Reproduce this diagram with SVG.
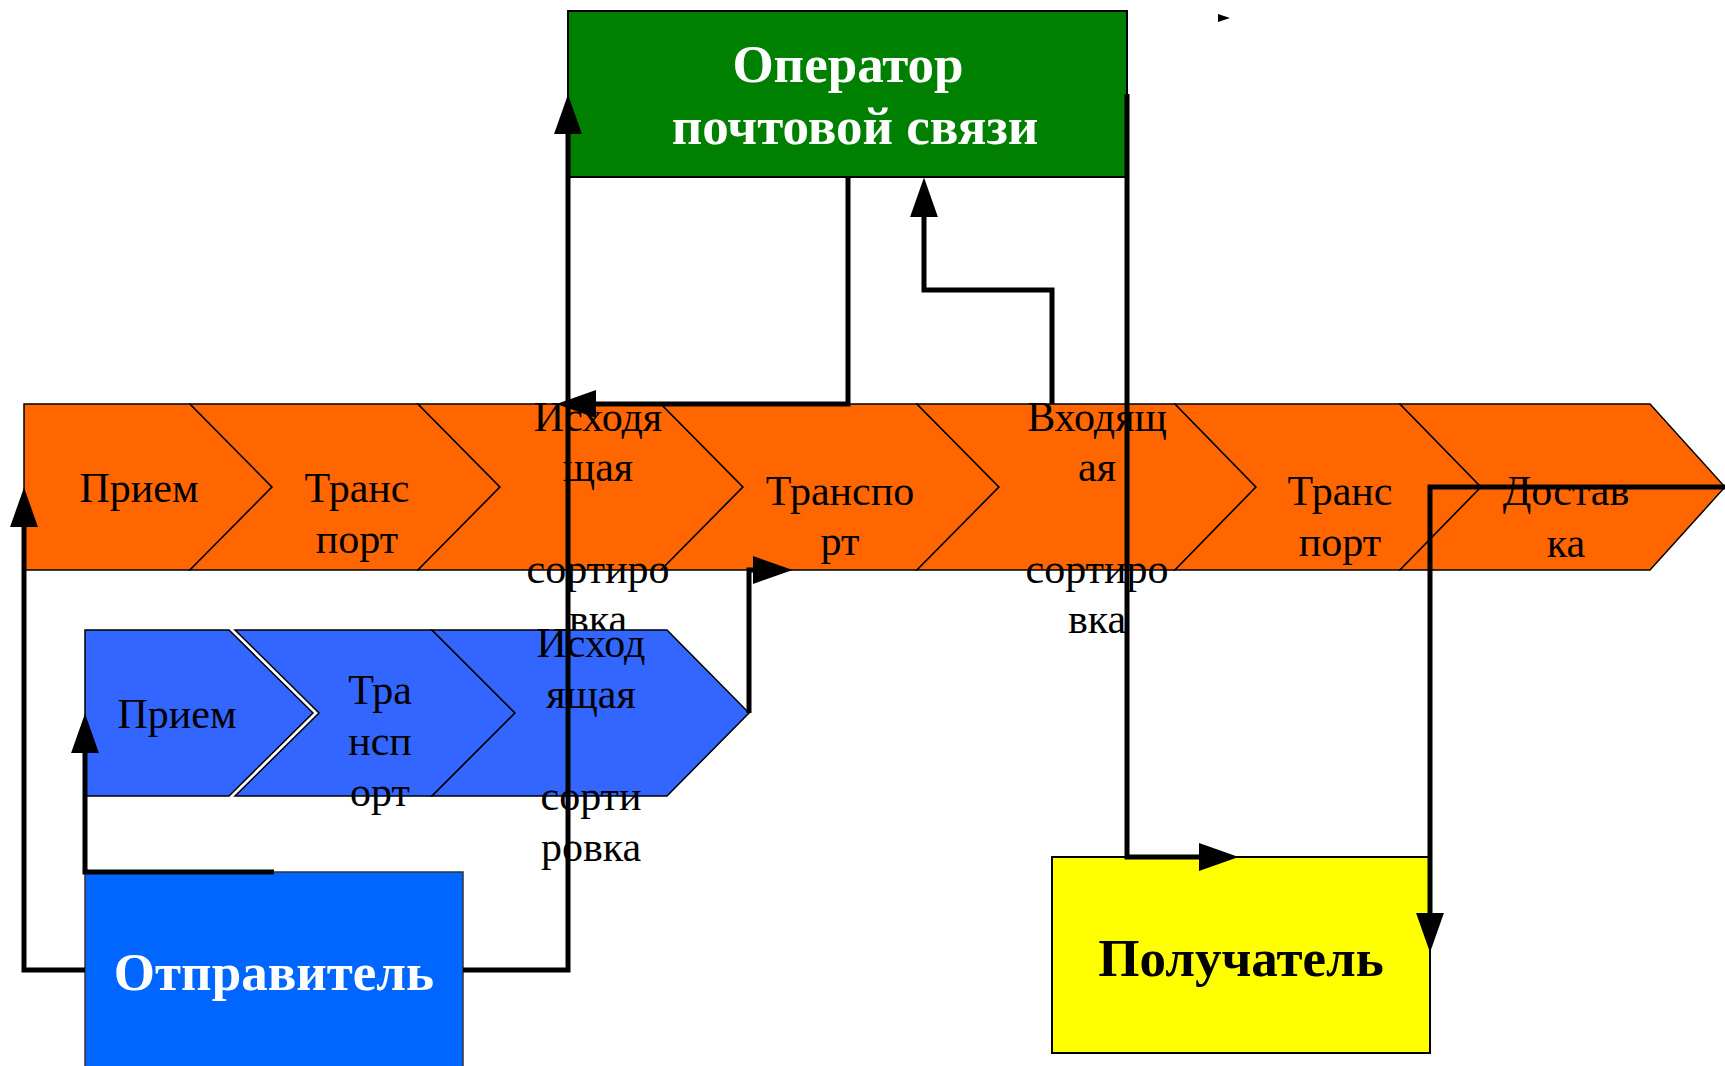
<svg xmlns="http://www.w3.org/2000/svg" width="1725" height="1066" viewBox="0 0 1725 1066">
<style>
.or{fill:#FF6600;stroke:#000;stroke-width:1.5;stroke-linejoin:miter}
.bl{fill:#3366FF;stroke:#000;stroke-width:1.5}
.t{font-family:"Liberation Serif","Times New Roman",serif;font-size:42px;fill:#000;text-anchor:middle}
.h{font-family:"Liberation Serif","Times New Roman",serif;font-size:53px;font-weight:bold;text-anchor:middle}
.c{fill:none;stroke:#000;stroke-width:5;stroke-linejoin:miter}
</style>
<defs>
<marker id="ah" markerUnits="userSpaceOnUse" markerWidth="40" markerHeight="28" viewBox="0 0 37 26" refX="29" refY="13" orient="auto">
<path d="M0,0 L37,13 L0,26 Z" fill="#000"/>
</marker>
</defs>
<rect width="1725" height="1066" fill="#fff"/>
<g id="orange-band">
<polygon class="or" points="24,404 190,404 272,487 190,570 24,570"/>
<polygon class="or" points="190,404 418,404 500,487 418,570 190,570 272,487"/>
<polygon class="or" points="418,404 661,404 743,487 661,570 418,570 500,487"/>
<polygon class="or" points="661,404 917,404 999,487 917,570 661,570 743,487"/>
<polygon class="or" points="917,404 1175,404 1256,487 1175,570 917,570 999,487"/>
<polygon class="or" points="1175,404 1400,404 1481,487 1400,570 1175,570 1256,487"/>
<polygon class="or" points="1400,404 1650,404 1725,487 1650,570 1400,570 1481,487"/>
<text class="t" x="139" y="502">Прием</text>
<text class="t" x="357" y="502">Транс</text>
<text class="t" x="357" y="553">порт</text>
<text class="t" x="598" y="431">Исходя</text>
<text class="t" x="598" y="481">щая</text>
<text class="t" x="598" y="583">сортиро</text>
<text class="t" x="598" y="633">вка</text>
<text class="t" x="840" y="505">Транспо</text>
<text class="t" x="840" y="555">рт</text>
<text class="t" x="1097" y="431">Входящ</text>
<text class="t" x="1097" y="481">ая</text>
<text class="t" x="1097" y="583">сортиро</text>
<text class="t" x="1097" y="633">вка</text>
<text class="t" x="1340" y="505">Транс</text>
<text class="t" x="1340" y="556">порт</text>
<text class="t" x="1566" y="505">Достав</text>
<text class="t" x="1566" y="557">ка</text>
</g>
<g id="blue-band">
<polygon class="bl" points="85,630 229,630 313,713 229,796 85,796"/>
<polygon class="bl" points="235,630 432,630 515,713 432,796 235,796 319,713"/>
<polygon class="bl" points="432,630 667,630 749,713 667,796 432,796 515,713"/>
<text class="t" x="177" y="728">Прием</text>
<text class="t" x="380" y="704">Тра</text>
<text class="t" x="380" y="755">нсп</text>
<text class="t" x="380" y="806">орт</text>
<text class="t" x="591" y="657">Исход</text>
<text class="t" x="591" y="708">ящая</text>
<text class="t" x="591" y="810">сорти</text>
<text class="t" x="591" y="861">ровка</text>
</g>
<g id="operator">
<rect x="568" y="11" width="559" height="166" fill="#008000" stroke="#000" stroke-width="2"/>
<text class="h" x="848" y="82" fill="#fff">Оператор</text>
<text class="h" x="855" y="144" fill="#fff">почтовой связи</text>
</g>
<g id="sender">
<rect x="85" y="872" width="378" height="200" fill="#0066FF" stroke="#333" stroke-width="1.5"/>
<text class="h" x="274" y="990" fill="#fff">Отправитель</text>
</g>
<g id="receiver">
<rect x="1052" y="857" width="378" height="196" fill="#FFFF00" stroke="#000" stroke-width="2"/>
<text class="h" x="1241" y="976" fill="#000">Получатель</text>
</g>
<g id="connectors">
<path class="c" d="M85,970 H24 V496" marker-end="url(#ah)"/>
<path class="c" d="M274,872 H85 V722" marker-end="url(#ah)"/>
<path class="c" d="M463,970 H568 V103" marker-end="url(#ah)"/>
<path class="c" d="M848,177 V404 H565" marker-end="url(#ah)"/>
<path class="c" d="M1052,404 V290 H924 V186" marker-end="url(#ah)"/>
<path class="c" d="M1127,94 V857 H1230" marker-end="url(#ah)"/>
<path class="c" d="M1725,487 H1430 V944" marker-end="url(#ah)"/>
<path class="c" d="M749,713 V570 H784" marker-end="url(#ah)"/>
<polygon points="1218,14 1230,18 1218,22" fill="#000"/>
</g>
</svg>
